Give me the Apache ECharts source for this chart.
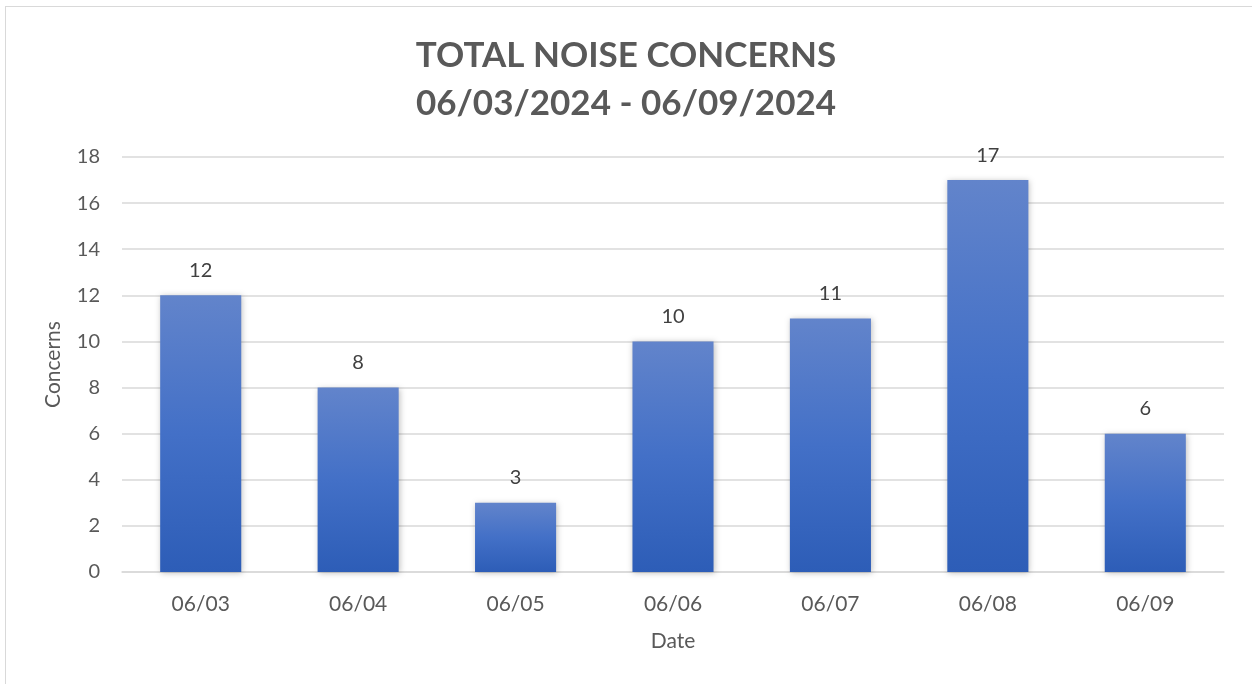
<!DOCTYPE html>
<html>
<head>
<meta charset="utf-8">
<script src="https://cdn.jsdelivr.net/npm/echarts@6/dist/echarts.min.js"></script>
<style>
html,body{margin:0;padding:0;background:#fff;}
#frame{position:absolute;left:5px;top:6px;width:1260px;height:700px;border:1.5px solid #d9d9d9;box-sizing:border-box;}
#chart{position:absolute;left:0;top:0;width:1252px;height:684px;}
</style>
</head>
<body>
<div id="frame"></div>
<div id="chart"></div>
<script>
const categories = ['06/03','06/04','06/05','06/06','06/07','06/08','06/09'];
const concerns = [12, 8, 3, 10, 11, 17, 6];
const titleLines = ['TOTAL NOISE CONCERNS', '06/03/2024 - 06/09/2024'];

const chart = echarts.init(document.getElementById('chart'), null, {renderer:'canvas'});
const fontFam = 'Lato, "Open Sans", sans-serif';
chart.setOption({
  animation:false,
  title:{
    text: titleLines.join('\n'),
    left:'center', top:27,
    textStyle:{fontFamily:fontFam, fontWeight:'bold', fontSize:35, lineHeight:48, color:'#595959'}
  },
  grid:{left:122, right:28, top:157, bottom:112},
  xAxis:{
    type:'category', data:categories,
    name:'Date', nameLocation:'middle', nameGap:59,
    nameTextStyle:{fontFamily:fontFam, fontSize:21, color:'#595959'},
    axisLine:{lineStyle:{color:'#d9d9d9', width:1.5}},
    axisTick:{show:false},
    axisLabel:{fontFamily:fontFam, fontSize:21, color:'#595959', margin:22}
  },
  yAxis:{
    type:'value', min:0, max:18, interval:2,
    name:'Concerns', nameLocation:'middle', nameGap:58, nameRotate:90,
    nameTextStyle:{fontFamily:fontFam, fontSize:21, color:'#595959'},
    axisLine:{show:false}, axisTick:{show:false},
    axisLabel:{fontFamily:fontFam, fontSize:20, color:'#595959', margin:22},
    splitLine:{lineStyle:{color:'#d9d9d9', width:1.5}}
  },
  series:[{
    type:'bar', data:concerns, barWidth:'51.5%',
    itemStyle:{
      color:new echarts.graphic.LinearGradient(0,0,0,1,[{offset:0,color:'#6284CB'},{offset:0.5,color:'#4370C7'},{offset:1,color:'#2D5DB7'}]),
      shadowColor:'rgba(0,0,0,0.25)', shadowBlur:6, shadowOffsetX:1, shadowOffsetY:1
    },
    label:{show:true, position:'top', distance:15, fontFamily:fontFam, fontSize:20, color:'#404040'}
  }]
});
</script>
</body>
</html>
